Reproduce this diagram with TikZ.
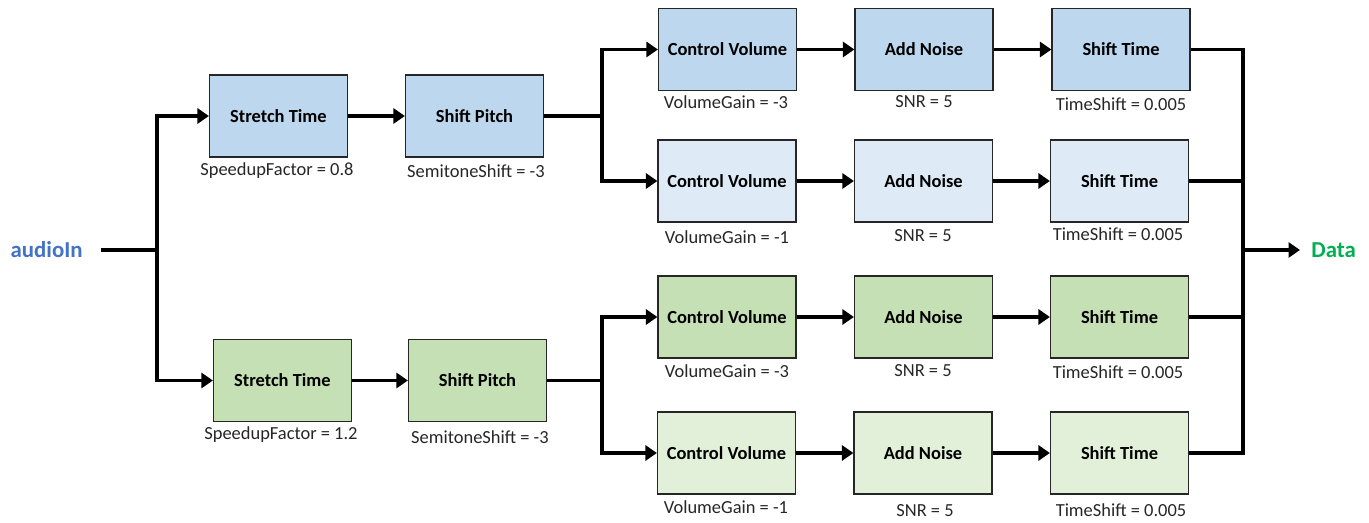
\documentclass[tikz,border=0pt]{standalone}
\usepackage{fontspec}
\setmainfont{Carlito}
\usepackage{tikz}
\usetikzlibrary{arrows.meta, positioning}
\definecolor{augblue}{RGB}{189,215,238}
\definecolor{auglightblue}{RGB}{222,235,247}
\definecolor{auggreen}{RGB}{197,224,180}
\definecolor{auglightgreen}{RGB}{226,240,217}
\definecolor{augtitle}{RGB}{68,114,196}
\definecolor{augdata}{RGB}{0,176,80}
\definecolor{augborder}{RGB}{38,38,38}

\tikzset{
  augbox/.style={draw=augborder, line width=0.7pt, minimum width=2.76cm,
    minimum height=1.64cm, inner sep=0pt, font=\fontsize{10.5}{12}\selectfont\bfseries},
  parlabel/.style={inner sep=0pt, text=augborder, font=\fontsize{10.5}{12}\selectfont},
  flow/.style={line width=1.9pt},
  flowarr/.style={flow, -{Triangle[length=6.5pt,width=8.5pt]}},
}

\begin{document}
\begin{tikzpicture}[x=0.02cm, y=-0.02cm]
\useasboundingbox (0,0) rectangle (1369,523);

% ---- input / output ----
\node[anchor=east, inner xsep=0.36cm, text=augtitle,
  font=\fontsize{13}{15}\selectfont\bfseries] (ain) at (101,250) {audioIn};
\node[anchor=west, inner xsep=0.22cm, text=augdata,
  font=\fontsize{13}{15}\selectfont\bfseries] (data) at (1300,250) {Data};
\coordinate (j0) at (157,250);
\coordinate (j1) at (602,116);
\coordinate (j2) at (602,380.5);
\coordinate (jout) at (1243,250);

% ---- upper branch (blue) ----
\node[augbox, fill=augblue] (st1) at (278.5,116) {Stretch Time};
\node[augbox, fill=augblue] (sp1) at (474.5,116) {Shift Pitch};
\node[parlabel] (st1p) at (277,171) {SpeedupFactor = 0.8};
\node[parlabel] (sp1p) at (476,171) {SemitoneShift = -3};

\node[augbox, fill=augblue] (cv1) at (727.5,49.5) {Control Volume};
\node[augbox, fill=augblue] (an1) at (924,49.5) {Add Noise};
\node[augbox, fill=augblue] (ts1) at (1121,49.5) {Shift Time};
\node[parlabel] (cv1p) at (726,102) {VolumeGain = -3};
\node[parlabel] (an1p) at (924,102) {SNR = 5};
\node[parlabel] (ts1p) at (1121,104) {TimeShift = 0.005};

\node[augbox, fill=auglightblue] (cv2) at (727,181) {Control Volume};
\node[augbox, fill=auglightblue] (an2) at (923.5,181) {Add Noise};
\node[augbox, fill=auglightblue] (ts2) at (1119.5,181) {Shift Time};
\node[parlabel] (cv2p) at (727,237) {VolumeGain = -1};
\node[parlabel] (an2p) at (923,236) {SNR = 5};
\node[parlabel] (ts2p) at (1118,234) {TimeShift = 0.005};

% ---- lower branch (green) ----
\node[augbox, fill=auggreen] (st2) at (282.5,380.5) {Stretch Time};
\node[augbox, fill=auggreen] (sp2) at (477.5,380.5) {Shift Pitch};
\node[parlabel] (st2p) at (281,435) {SpeedupFactor = 1.2};
\node[parlabel] (sp2p) at (480,437) {SemitoneShift = -3};

\node[augbox, fill=auggreen] (cv3) at (727,317) {Control Volume};
\node[augbox, fill=auggreen] (an3) at (923.5,317) {Add Noise};
\node[augbox, fill=auggreen] (ts3) at (1119.5,317) {Shift Time};
\node[parlabel] (cv3p) at (727,371) {VolumeGain = -3};
\node[parlabel] (an3p) at (923,371) {SNR = 5};
\node[parlabel] (ts3p) at (1118,372) {TimeShift = 0.005};

\node[augbox, fill=auglightgreen] (cv4) at (726.5,453) {Control Volume};
\node[augbox, fill=auglightgreen] (an4) at (923,453) {Add Noise};
\node[augbox, fill=auglightgreen] (ts4) at (1119.5,453) {Shift Time};
\node[parlabel] (cv4p) at (726,507) {VolumeGain = -1};
\node[parlabel] (an4p) at (925,511) {SNR = 5};
\node[parlabel] (ts4p) at (1121,510) {TimeShift = 0.005};

% ---- connectors ----
\draw[flow] (ain.east) -- (j0);
\draw[flowarr] (j0) |- (st1.west);
\draw[flowarr] (j0) |- (st2.west);
\draw[flowarr] (st1) -- (sp1);
\draw[flowarr] (st2) -- (sp2);

\draw[flow] (sp1.east) -- (j1);
\draw[flowarr] (j1) |- (cv1.west);
\draw[flowarr] (j1) |- (cv2.west);
\draw[flow] (sp2.east) -- (j2);
\draw[flowarr] (j2) |- (cv3.west);
\draw[flowarr] (j2) |- (cv4.west);

\foreach \r in {1,2,3,4} {
  \draw[flowarr] (cv\r) -- (an\r);
  \draw[flowarr] (an\r) -- (ts\r);
  \draw[flow] (ts\r.east) -| (jout);
}
\draw[flowarr] (jout) -- (data.west);
\end{tikzpicture}
\end{document}
